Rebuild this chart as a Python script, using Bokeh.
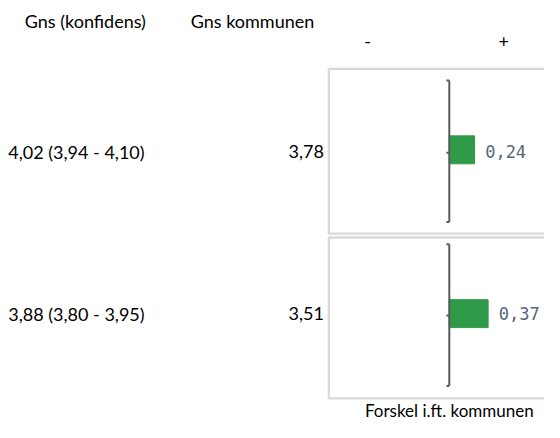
from bokeh.plotting import figure
from bokeh.models import Range1d
from bokeh.core.properties import value
from bokeh.embed import file_html
from bokeh.resources import INLINE

# ---- data ----
ci_labels = ["4,02 (3,94 - 4,10)", "3,88 (3,80 - 3,95)"]
kommune_labels = ["3,78", "3,51"]
diffs = [0.24, 0.37]
diff_labels = ["0,24", "0,37"]
header_left = "Gns  (konfidens)"
header_mid = "Gns kommunen"
sign_labels = ["-", "+"]
footer = "Forskel i.ft. kommunen"

# ---- layout (reference pixel space 560 x 438) ----
W, H = 544, 422
AX = 462          # x of the zero line
K = 108.0         # pixels per unit of difference


def X(sx):
    return (sx - AX) / K


row_y = [157, 325]
bar_y = [155, 325]
panel_top = [71, 246]
panel_bot = [242, 413]
brk_top = [83, 253]
brk_bot = [230, 400]
tick_y = [158, 327]

p = figure(width=W, height=H, output_backend="svg", toolbar_location=None,
           x_range=Range1d(X(0), X(560)), y_range=Range1d(438, 0),
           min_border=0, outline_line_color=None)
p.axis.visible = False
p.grid.visible = False
p.background_fill_color = "white"
p.border_fill_color = "white"

# panel frames
p.quad(left=[X(338)] * 2, right=[X(620)] * 2, top=panel_top, bottom=panel_bot,
       fill_color=None, line_color="#d9d9d9", line_width=2.3)

# bars
p.hbar(y=bar_y, left=0, right=diffs, height=29, fill_color="#2f9a48",
       line_color="#2f9a48")

# zero axis with bracket ends
hook = 3 / K
ax_col = "#5a5a5a"
p.segment(x0=[0, 0], x1=[0, 0], y0=brk_top, y1=brk_bot, line_color=ax_col, line_width=2)
p.segment(x0=[-hook] * 2, x1=[0] * 2, y0=brk_top, y1=brk_top, line_color=ax_col, line_width=2)
p.segment(x0=[-hook] * 2, x1=[0] * 2, y0=brk_bot, y1=brk_bot, line_color=ax_col, line_width=2)
p.segment(x0=[-hook] * 2, x1=[0] * 2, y0=tick_y, y1=tick_y, line_color=ax_col, line_width=2)

# value labels
p.text(x=[d + 11 / K for d in diffs], y=row_y, text=diff_labels,
       text_font=value("DejaVu Sans Mono"), text_font_size="17px",
       text_color="#56667c", text_baseline="middle", text_align="left")

font = value("Lato")
fs = "18px"
# row labels
p.text(x=[X(8)] * 2, y=row_y, text=ci_labels, text_font=font, text_font_size=fs,
       text_color="#000000", text_baseline="middle", text_align="left")
p.text(x=[X(333)] * 2, y=row_y, text=kommune_labels, text_font=font, text_font_size=fs,
       text_color="#000000", text_baseline="middle", text_align="right")

# headers
p.text(x=[X(25)], y=[21], text=[header_left], text_font=font, text_font_size=fs,
       text_color="#000000", text_baseline="middle", text_align="left")
p.text(x=[X(323)], y=[21], text=[header_mid], text_font=font, text_font_size=fs,
       text_color="#000000", text_baseline="middle", text_align="right")
p.text(x=[X(378), X(518)], y=[43, 43], text=sign_labels, text_font=font, text_font_size=fs,
       text_color="#000000", text_baseline="middle", text_align="center")
p.text(x=[X(462)], y=[426], text=[footer], text_font=font, text_font_size="17px",
       text_color="#000000", text_baseline="middle", text_align="center")

open("out.html", "w").write(file_html(p, INLINE))
